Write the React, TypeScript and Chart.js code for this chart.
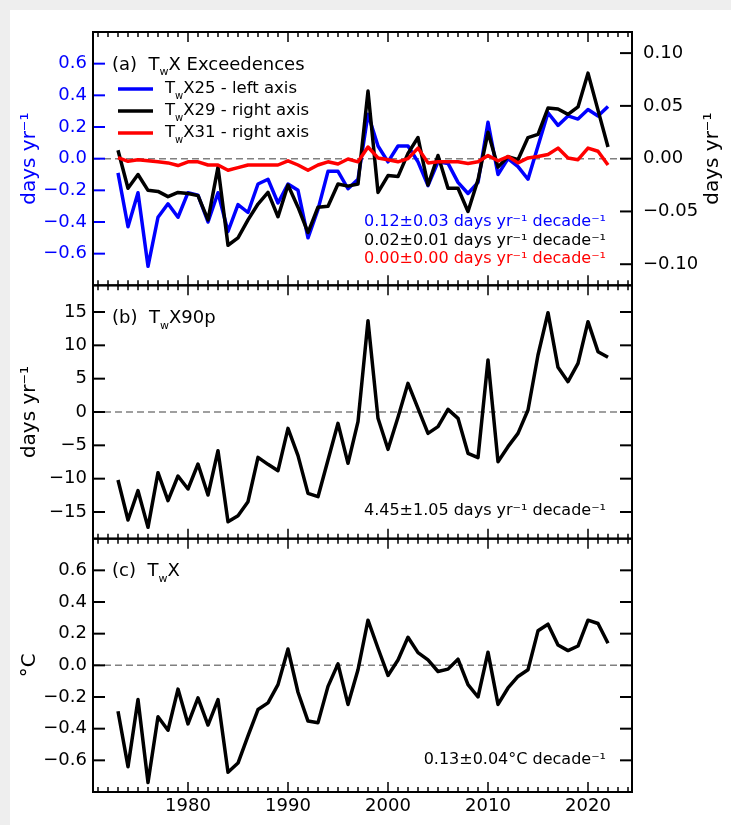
import React, { useEffect, useRef } from 'react';
import { Chart, registerables } from 'chart.js';

Chart.register(...registerables);

const FONT = "'DejaVu Sans', sans-serif";

// ---------------- data ----------------
const years = [
  1973, 1974, 1975, 1976, 1977, 1978, 1979, 1980, 1981, 1982,
  1983, 1984, 1985, 1986, 1987, 1988, 1989, 1990, 1991, 1992,
  1993, 1994, 1995, 1996, 1997, 1998, 1999, 2000, 2001, 2002,
  2003, 2004, 2005, 2006, 2007, 2008, 2009, 2010, 2011, 2012,
  2013, 2014, 2015, 2016, 2017, 2018, 2019, 2020, 2021, 2022,
];

// TwX25 exceedences (days/yr), left axis
const twx25 = [
  -0.09, -0.43, -0.215, -0.68, -0.37, -0.285, -0.37, -0.215, -0.23, -0.4,
  -0.215, -0.46, -0.29, -0.34, -0.16, -0.13, -0.28, -0.16, -0.2, -0.5,
  -0.32, -0.08, -0.08, -0.19, -0.13, 0.28, 0.08, -0.02, 0.08, 0.08,
  -0.02, -0.17, -0.02, -0.03, -0.15, -0.22, -0.15, 0.23, -0.1, 0.0,
  -0.05, -0.13, 0.08, 0.29, 0.21, 0.27, 0.25, 0.31, 0.27, 0.33,
];

// TwX29 exceedences (days/yr), right axis
const twx29 = [
  0.008, -0.028, -0.015, -0.03, -0.031, -0.036, -0.032, -0.033, -0.035, -0.058,
  -0.008, -0.082, -0.075, -0.058, -0.043, -0.032, -0.055, -0.025, -0.046, -0.07,
  -0.046, -0.045, -0.024, -0.026, -0.024, 0.064, -0.032, -0.016, -0.017, 0.005,
  0.02, -0.025, 0.003, -0.028, -0.028, -0.05, -0.02, 0.025, -0.008, 0.002,
  -0.001, 0.02, 0.023, 0.048, 0.047, 0.042, 0.049, 0.081, 0.046, 0.011,
];

// TwX31 exceedences (days/yr), right axis
const twx31 = [
  0.001, -0.0025, -0.001, -0.002, -0.003, -0.004, -0.0065, -0.003, -0.003, -0.006,
  -0.006, -0.011, -0.0085, -0.006, -0.006, -0.006, -0.006, -0.002, -0.006, -0.011,
  -0.006, -0.003, -0.005, -0.0003, -0.003, 0.011, 0.0007, -0.001, -0.003, 0.0,
  0.01, -0.004, -0.003, -0.003, -0.003, -0.0045, -0.003, 0.003, -0.002, 0.002,
  -0.004, 0.0007, 0.002, 0.004, 0.01, 0.0007, -0.001, 0.01, 0.007, -0.006,
];

// TwX90p (days/yr)
const twx90p = [
  -10.2, -16.2, -11.8, -17.3, -9.1, -13.3, -9.6, -11.55, -7.8, -12.45,
  -5.8, -16.45, -15.55, -13.45, -6.8, -7.85, -8.8, -2.45, -6.55, -12.2,
  -12.7, -7.2, -1.7, -7.7, -1.45, 13.7, -0.95, -5.6, -0.8, 4.3,
  0.55, -3.2, -2.2, 0.4, -0.95, -6.2, -6.85, 7.8, -7.45, -5.2,
  -3.2, 0.3, 8.55, 14.9, 6.7, 4.55, 7.3, 13.55, 9.05, 8.2,
];

// TwX (degC)
const twx = [
  -0.29, -0.64, -0.216, -0.74, -0.325, -0.41, -0.15, -0.37, -0.205, -0.377,
  -0.216, -0.675, -0.617, -0.446, -0.279, -0.237, -0.122, 0.103, -0.17, -0.352,
  -0.362, -0.133, 0.009, -0.247, -0.028, 0.285, 0.108, -0.064, 0.034, 0.177,
  0.08, 0.034, -0.039, -0.024, 0.039, -0.122, -0.2, 0.083, -0.247, -0.143,
  -0.07, -0.028, 0.218, 0.26, 0.128, 0.093, 0.122, 0.285, 0.264, 0.139,
];

// ticks
const xMajorTicks = [1980, 1990, 2000, 2010, 2020];
const leftTicksA = [-0.6, -0.4, -0.2, 0.0, 0.2, 0.4, 0.6];
const rightTicksA = [-0.1, -0.05, 0.0, 0.05, 0.1];
const ticksB = [-15, -10, -5, 0, 5, 10, 15];
const ticksC = [-0.6, -0.4, -0.2, 0.0, 0.2, 0.4, 0.6];

// text
const trendA = [
  '0.12\u00b10.03 days yr\u207b\u00b9 decade\u207b\u00b9',
  '0.02\u00b10.01 days yr\u207b\u00b9 decade\u207b\u00b9',
  '0.00\u00b10.00 days yr\u207b\u00b9 decade\u207b\u00b9',
];
const trendB = '4.45\u00b11.05 days yr\u207b\u00b9 decade\u207b\u00b9';
const trendC = '0.13\u00b10.04\u00b0C decade\u207b\u00b9';
const unitDays = 'days yr\u207b\u00b9';
const unitC = '\u00b0C';

// ---------------- layout ----------------
const W = 731;
const H = 825;
const PLOT_L = 93;
const PLOT_R = 632;
const TOPS = [32, 285.33, 538.67];
const BOTS = [285.33, 538.67, 792];
const X_MIN = 1970.5;
const X_MAX = 2024.4;

const BLUE = '#0000ff';
const RED = '#ff0000';
const BLACK = '#000000';

type Part = { t: string; sub?: boolean };

const pts = (vals: number[]) => years.map((yr, i) => ({ x: yr, y: vals[i] }));
const fmt = (v: number, d: number) => {
  const s = Math.abs(v).toFixed(d);
  return v < -1e-9 ? '\u2212' + s : s;
};

function drawParts(ctx: CanvasRenderingContext2D, parts: Part[], x: number, y: number, size: number, color: string, align: 'left' | 'right') {
  const fMain = `${size}px ${FONT}`;
  const fSub = `${Math.round(size * 0.62)}px ${FONT}`;
  const widths = parts.map((p) => {
    ctx.font = p.sub ? fSub : fMain;
    return ctx.measureText(p.t).width;
  });
  const total = widths.reduce((a, b) => a + b, 0);
  let cx = align === 'right' ? x - total : x;
  ctx.textAlign = 'left';
  ctx.textBaseline = 'middle';
  ctx.fillStyle = color;
  parts.forEach((p, i) => {
    ctx.font = p.sub ? fSub : fMain;
    ctx.fillText(p.t, cx, p.sub ? y + size * 0.42 : y);
    cx += widths[i];
  });
}

type PanelOpts = {
  id: string;
  leftScale: string;
  leftTicks: number[];
  leftColor: string;
  rightScale: string;
  rightTicks: number[];
  label: Part[];
  legend?: { color: string; parts: Part[] }[];
  notes: { color: string; text: string; dy: number }[];
  rightTitle?: string;
};

function panelPlugin(o: PanelOpts) {
  return {
    id: o.id,
    beforeDatasetsDraw(chart: any) {
      const { ctx, chartArea: a } = chart;
      const y0 = chart.scales[o.leftScale].getPixelForValue(0);
      ctx.save();
      ctx.strokeStyle = '#808080';
      ctx.lineWidth = 1.5;
      ctx.setLineDash([7, 4]);
      ctx.beginPath();
      ctx.moveTo(a.left, y0);
      ctx.lineTo(a.right, y0);
      ctx.stroke();
      ctx.restore();
    },
    afterDraw(chart: any) {
      const { ctx, chartArea: a } = chart;
      const xs = chart.scales.x;
      const line = (x1: number, y1: number, x2: number, y2: number) => {
        ctx.beginPath();
        ctx.moveTo(x1, y1);
        ctx.lineTo(x2, y2);
        ctx.stroke();
      };
      ctx.save();
      ctx.setLineDash([]);
      // x ticks (inward, top and bottom)
      ctx.strokeStyle = BLACK;
      ctx.lineWidth = 1.5;
      for (let yr = Math.ceil(X_MIN); yr <= Math.floor(X_MAX); yr++) {
        const px = xs.getPixelForValue(yr);
        const len = xMajorTicks.includes(yr) ? 10 : 5;
        line(px, a.top, px, a.top + len);
        line(px, a.bottom, px, a.bottom - len);
      }
      // y ticks
      ctx.lineWidth = 2;
      const yl = chart.scales[o.leftScale];
      ctx.strokeStyle = o.leftColor;
      o.leftTicks.forEach((v) => {
        const py = yl.getPixelForValue(v);
        line(a.left, py, a.left + 12, py);
      });
      const yr = chart.scales[o.rightScale];
      ctx.strokeStyle = BLACK;
      o.rightTicks.forEach((v) => {
        const py = yr.getPixelForValue(v);
        line(a.right - 12, py, a.right, py);
      });
      // frame
      ctx.lineWidth = 2;
      ctx.strokeStyle = BLACK;
      ctx.strokeRect(a.left, a.top, a.right - a.left, a.bottom - a.top);

      // panel label
      drawParts(ctx, o.label, a.left + 19, a.top + 33, 18, BLACK, 'left');
      // legend
      (o.legend || []).forEach((e, i) => {
        const ly = a.top + 57 + i * 22;
        ctx.strokeStyle = e.color;
        ctx.lineWidth = 3.5;
        line(a.left + 25, ly, a.left + 60, ly);
        drawParts(ctx, e.parts, a.left + 72, ly, 16.5, BLACK, 'left');
      });
      // trend notes
      o.notes.forEach((n) => {
        drawParts(ctx, [{ t: n.text }], a.right - 26, a.bottom + n.dy, 16, n.color, 'right');
      });
      // right axis title (reads bottom-to-top)
      if (o.rightTitle) {
        ctx.save();
        ctx.translate(713, (a.top + a.bottom) / 2);
        ctx.rotate(-Math.PI / 2);
        ctx.font = `20px ${FONT}`;
        ctx.fillStyle = BLACK;
        ctx.textAlign = 'center';
        ctx.textBaseline = 'middle';
        ctx.fillText(o.rightTitle, 0, 0);
        ctx.restore();
      }
      ctx.restore();
    },
  };
}

function xScale(show: boolean) {
  return {
    type: 'linear',
    min: X_MIN,
    max: X_MAX,
    display: show,
    afterBuildTicks: (s: any) => {
      s.ticks = xMajorTicks.map((v) => ({ value: v }));
    },
    afterFit: (s: any) => {
      if (show) s.height = H - BOTS[2];
    },
    ticks: {
      font: { family: FONT, size: 18 },
      color: BLACK,
      padding: 4,
      maxRotation: 0,
      autoSkip: false,
      callback: (v: any) => String(v),
    },
    grid: { display: false, drawTicks: false, tickLength: 0 },
    border: { display: false },
  };
}

function yScale(opts: {
  position: 'left' | 'right';
  min: number;
  max: number;
  ticks: number[];
  digits: number;
  color: string;
  width: number;
  padding: number;
  title?: string;
}) {
  return {
    type: 'linear',
    position: opts.position,
    min: opts.min,
    max: opts.max,
    afterBuildTicks: (s: any) => {
      s.ticks = opts.ticks.map((v) => ({ value: v }));
    },
    afterFit: (s: any) => {
      s.width = opts.width;
    },
    ticks: {
      font: { family: FONT, size: 18 },
      color: opts.color,
      padding: opts.padding,
      autoSkip: false,
      callback: (v: any) => fmt(Number(v), opts.digits),
    },
    title: opts.title
      ? {
          display: true,
          text: opts.title,
          color: opts.color,
          font: { family: FONT, size: 20 },
          padding: { top: 18, bottom: 0 },
        }
      : { display: false },
    grid: { display: false, drawTicks: false, tickLength: 0 },
    border: { display: false },
  };
}

const lineDs = (label: string, data: any[], color: string, axis: string, order: number) => ({
  label,
  data,
  yAxisID: axis,
  borderColor: color,
  backgroundColor: color,
  borderWidth: 3.5,
  pointRadius: 0,
  tension: 0,
  fill: false,
  order,
  borderJoinStyle: 'round',
  borderCapStyle: 'butt',
});

const baseOptions = (padding: any) => ({
  animation: false,
  responsive: false,
  events: [],
  layout: { padding },
  plugins: { legend: { display: false }, tooltip: { enabled: false } },
});

function configA(): any {
  return {
    type: 'line',
    data: {
      datasets: [
        lineDs('TwX25', pts(twx25), BLUE, 'y', 3),
        lineDs('TwX29', pts(twx29), BLACK, 'yR', 2),
        lineDs('TwX31', pts(twx31), RED, 'yR', 1),
      ],
    },
    options: {
      ...baseOptions({ top: TOPS[0], bottom: H - BOTS[0], left: 0, right: 0 }),
      scales: {
        x: xScale(false),
        y: yScale({ position: 'left', min: -0.8, max: 0.8, ticks: leftTicksA, digits: 1, color: BLUE, width: PLOT_L, padding: 6, title: unitDays }),
        yR: yScale({ position: 'right', min: -0.12, max: 0.12, ticks: rightTicksA, digits: 2, color: BLACK, width: W - PLOT_R, padding: 11 }),
      },
    },
    plugins: [
      panelPlugin({
        id: 'panelA',
        leftScale: 'y',
        leftTicks: leftTicksA,
        leftColor: BLUE,
        rightScale: 'yR',
        rightTicks: rightTicksA,
        label: [{ t: '(a)  T' }, { t: 'w', sub: true }, { t: 'X Exceedences' }],
        legend: [
          { color: BLUE, parts: [{ t: 'T' }, { t: 'w', sub: true }, { t: 'X25 - left axis' }] },
          { color: BLACK, parts: [{ t: 'T' }, { t: 'w', sub: true }, { t: 'X29 - right axis' }] },
          { color: RED, parts: [{ t: 'T' }, { t: 'w', sub: true }, { t: 'X31 - right axis' }] },
        ],
        notes: [
          { color: BLUE, text: trendA[0], dy: -63.5 },
          { color: BLACK, text: trendA[1], dy: -44.5 },
          { color: RED, text: trendA[2], dy: -26 },
        ],
        rightTitle: unitDays,
      }),
    ],
  };
}

function configB(): any {
  return {
    type: 'line',
    data: { datasets: [lineDs('TwX90p', pts(twx90p), BLACK, 'y', 1)] },
    options: {
      ...baseOptions({ top: TOPS[1], bottom: H - BOTS[1], left: 0, right: W - PLOT_R }),
      scales: {
        x: xScale(false),
        y: yScale({ position: 'left', min: -19, max: 19, ticks: ticksB, digits: 0, color: BLACK, width: PLOT_L, padding: 6, title: unitDays }),
      },
    },
    plugins: [
      panelPlugin({
        id: 'panelB',
        leftScale: 'y',
        leftTicks: ticksB,
        leftColor: BLACK,
        rightScale: 'y',
        rightTicks: ticksB,
        label: [{ t: '(b)  T' }, { t: 'w', sub: true }, { t: 'X90p' }],
        notes: [{ color: BLACK, text: trendB, dy: -27.5 }],
      }),
    ],
  };
}

function configC(): any {
  return {
    type: 'line',
    data: { datasets: [lineDs('TwX', pts(twx), BLACK, 'y', 1)] },
    options: {
      ...baseOptions({ top: TOPS[2], bottom: 0, left: 0, right: W - PLOT_R }),
      scales: {
        x: xScale(true),
        y: yScale({ position: 'left', min: -0.8, max: 0.8, ticks: ticksC, digits: 1, color: BLACK, width: PLOT_L, padding: 6, title: unitC }),
      },
    },
    plugins: [
      panelPlugin({
        id: 'panelC',
        leftScale: 'y',
        leftTicks: ticksC,
        leftColor: BLACK,
        rightScale: 'y',
        rightTicks: ticksC,
        label: [{ t: '(c)  T' }, { t: 'w', sub: true }, { t: 'X' }],
        notes: [{ color: BLACK, text: trendC, dy: -32 }],
      }),
    ],
  };
}

export default function App() {
  const refA = useRef<HTMLCanvasElement>(null);
  const refB = useRef<HTMLCanvasElement>(null);
  const refC = useRef<HTMLCanvasElement>(null);

  useEffect(() => {
    const charts: Chart[] = [];
    if (refA.current) charts.push(new Chart(refA.current, configA()));
    if (refB.current) charts.push(new Chart(refB.current, configB()));
    if (refC.current) charts.push(new Chart(refC.current, configC()));
    return () => charts.forEach((c) => c.destroy());
  }, []);

  const canvasStyle: React.CSSProperties = { position: 'absolute', left: 0, top: 0, width: W, height: H };

  return (
    <div style={{ position: 'absolute', left: 0, top: 0, width: W, height: H, background: '#eeeeee', overflow: 'hidden' }}>
      <div style={{ position: 'absolute', left: 10, top: 10, width: W - 10, height: H - 10, background: '#ffffff' }} />
      <canvas ref={refA} width={W} height={H} style={canvasStyle} />
      <canvas ref={refB} width={W} height={H} style={canvasStyle} />
      <canvas ref={refC} width={W} height={H} style={canvasStyle} />
    </div>
  );
}
